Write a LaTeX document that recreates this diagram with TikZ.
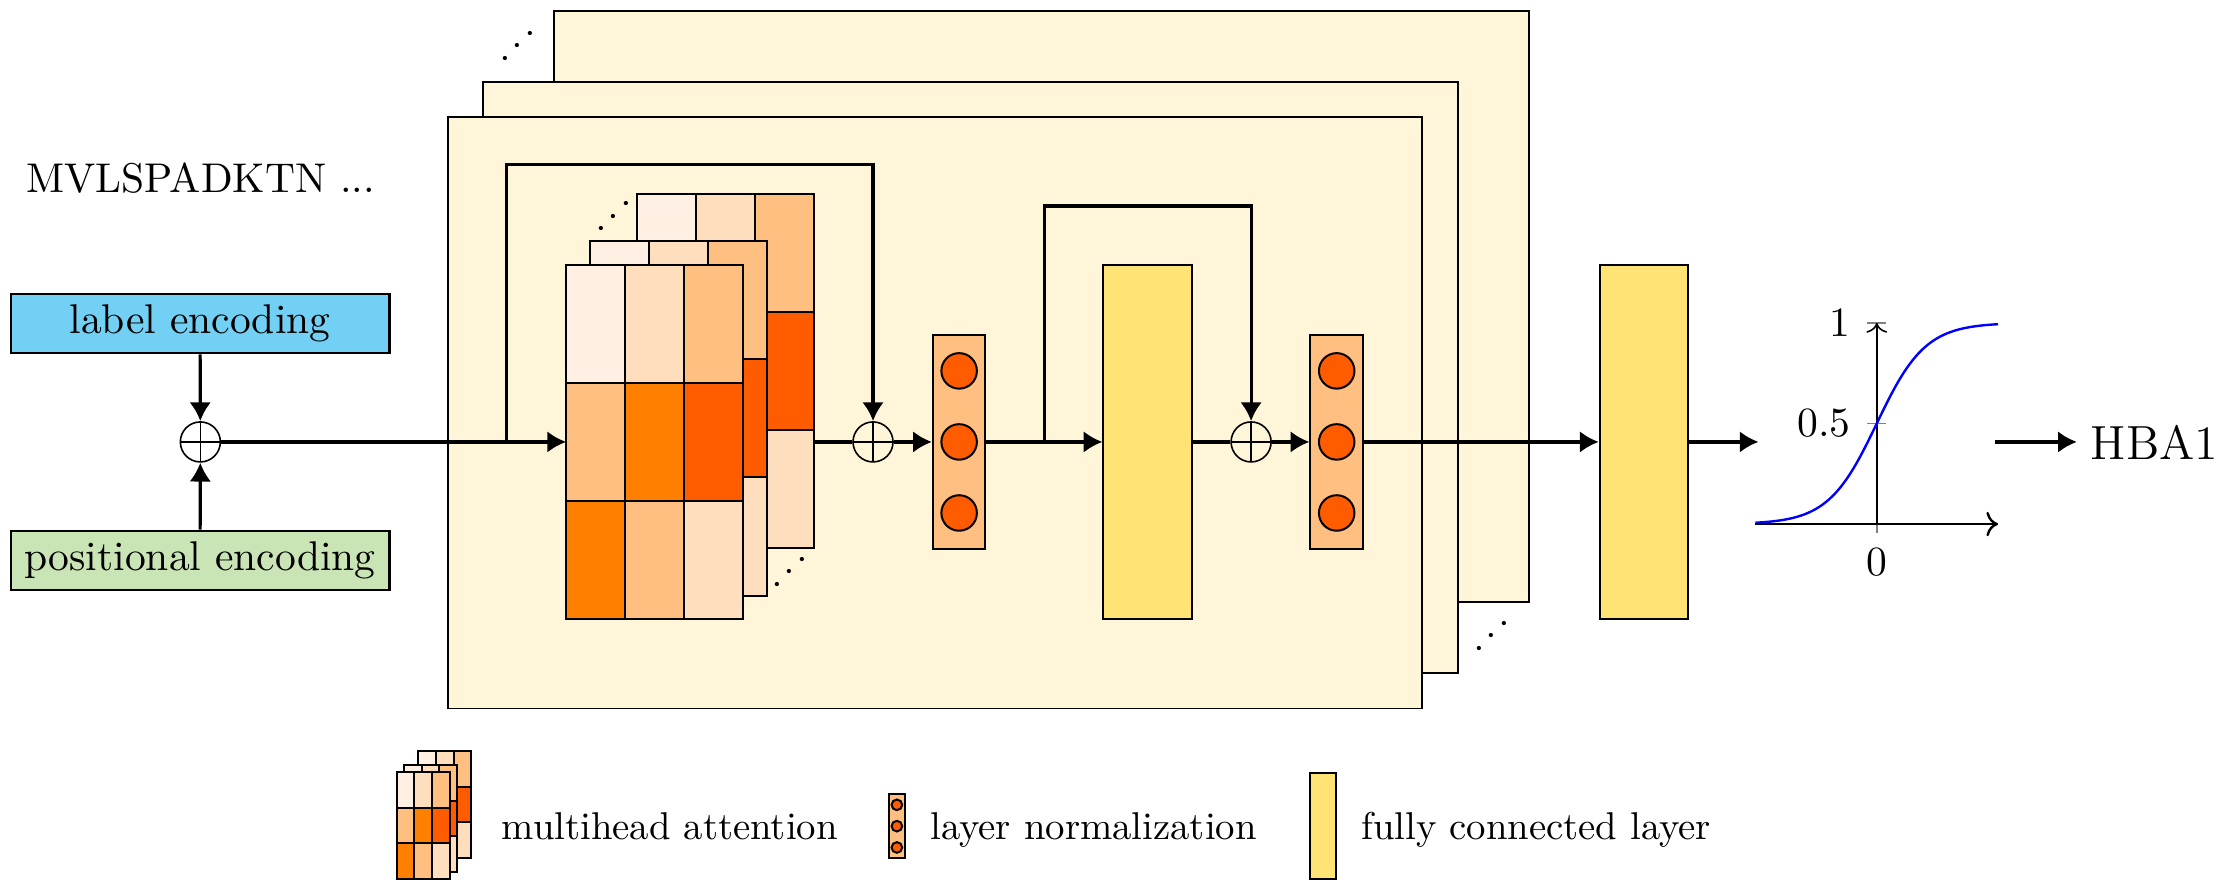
\documentclass[tikz,border=0pt]{standalone}
\usepackage{fontspec}
\usetikzlibrary{positioning,arrows.meta}

\definecolor{blockbg}{RGB}{255,246,218}
\definecolor{fcyellow}{RGB}{255,227,116}
\definecolor{labelblue}{RGB}{114,208,244}
\definecolor{posgreen}{RGB}{201,228,181}
\definecolor{attA}{RGB}{255,240,227}
\definecolor{attB}{RGB}{255,222,189}
\definecolor{attC}{RGB}{255,191,128}
\definecolor{attD}{RGB}{255,128,0}
\definecolor{attE}{RGB}{255,92,0}

\tikzset{
	conn/.style={thick,-{Latex[length=4.7pt,width=5.4pt]}},
	plain/.style={thick},
	encbox/.style={draw,semithick,rectangle,minimum width=3.33cm,minimum height=0.52cm,inner sep=0pt},
	block/.style={draw,line width=0.5pt,fill=blockbg,rectangle,minimum width=8.575cm,minimum height=5.2cm},
	fc/.style={draw,line width=0.5pt,fill=fcyellow,rectangle,minimum width=0.78cm,minimum height=3.12cm,inner sep=0pt},
	lnorm/.style={draw,line width=0.5pt,fill=attC,rectangle,minimum width=0.4625cm,minimum height=1.875cm,inner sep=0pt},
	lncirc/.style={draw,line width=0.5pt,fill=attE,circle,minimum size=0.3125cm,inner sep=0pt},
	addnode/.style={draw,circle,minimum size=0.352cm,inner sep=0pt,
		path picture={\draw (path picture bounding box.north) -- (path picture bounding box.south)
			(path picture bounding box.west) -- (path picture bounding box.east);}},
	dotsnode/.style={rotate=45,inner sep=0pt},
	keytext/.style={anchor=base west,font=\fontsize{9.7pt}{12pt}\selectfont},
	pics/heads/.style={code={
		% three heads, back to front
		\foreach \off in {0.625,0.208,0}{
			\foreach \clr [count=\i from 0] in {attA,attB,attC,attC,attD,attE,attD,attC,attB}{
				\pgfmathtruncatemacro{\col}{mod(\i,3)}
				\pgfmathtruncatemacro{\row}{\i/3}
				\draw[line width=0.5pt,fill=\clr] (\off+0.52*\col,\off-1.04*\row) rectangle ++(0.52,-1.04);
			}
		}
		\coordinate (-in) at (0,-1.56);
		\coordinate (-out) at (2.185,-1.56);
	}},
}

\begin{document}
\begin{tikzpicture}[every node/.append style={font=\fontsize{10.4pt}{12pt}\selectfont}]

	\useasboundingbox (0,0) rectangle (19.6,-7.8375);

	% input
	\node[anchor=west] (seq) at (0.11,-1.5625) {MVLSPADKTN ...};
	\node[encbox,fill=labelblue] (lenc) at (1.76,-2.847) {label encoding};
	\node[encbox,fill=posgreen] (penc) at (1.76,-4.93) {positional encoding};
	\node[addnode] (add0) at (1.7625,-3.8875) {};

	% stacked encoder layers
	\node[block] (block3) at (9.1625,-2.695) {};
	\node[block] (block2) at (8.5375,-3.32) {};
	\node[block] (block1) at (8.225,-3.6325) {};
	\node[dotsnode] (dots1) at (4.5625,-0.41) {$\cdots$};
	\node[dotsnode] (dots2) at (13.13,-5.6) {$\cdots$};

	\pic (mha) at (4.98,-2.3275) {heads};
	\node[dotsnode] (dots3) at (5.406,-1.907) {$\cdots$};
	\node[dotsnode] (dots4) at (6.953,-5.035) {$\cdots$};

	\node[addnode] (add1) at (7.68,-3.8875) {};
	\node[lnorm] (ln1) at (8.4375,-3.8875) {};
	\node[fc] (fc1) at (10.097,-3.8875) {};
	\node[addnode] (add2) at (11.006,-3.8875) {};
	\node[lnorm] (ln2) at (11.759,-3.8875) {};
	\foreach \n in {ln1,ln2}
		\foreach \dy [count=\k] in {0.625,0,-0.625}
			\node[lncirc] (\n-c\k) at ([yshift=\dy cm]\n.center) {};

	% output
	\node[fc] (fc2) at (14.4625,-3.8875) {};
	\coordinate (sigin) at (15.47,-3.8875);
	\coordinate (sigout) at (17.55,-3.8875);
	\node[anchor=west,font=\large] (hba) at (18.27,-3.8875) {HBA1};

	\begin{scope}[shift={(16.51,-4.61)},x=1.067cm,y=1.77cm]
		\draw[gray,thin] (-0.08,0.5) -- (0.08,0.5) (-0.08,1) -- (0.08,1) (0,0) -- (0,-0.045);
		\draw[semithick,->] (-1,0) -- (1,0);
		\draw[thin,->] (0,0) -- (0,1);
		\draw[blue,semithick,domain=-1:1,samples=80,smooth] plot (\x,{1/(1+exp(-5*\x))});
		\node[anchor=east] (tick1) at (-0.1,1) {1};
		\node[anchor=east] (tickh) at (-0.1,0.5) {0.5};
		\node[anchor=north] (tick0) at (0,-0.05) {0};
	\end{scope}

	% connections
	\draw[conn] (lenc) -- (add0);
	\draw[conn] (penc) -- (add0);
	\draw[conn] (add0) -- (mha-in);
	\coordinate (res1) at (4.456,-3.8875);
	\draw[conn] (res1) -- ++(0,2.4415) -| (add1);
	\draw[plain] (mha-out) -- (add1);
	\draw[conn] (add1) -- (ln1);
	\draw[conn] (ln1) -- (fc1);
	\coordinate (res2) at (9.1875,-3.8875);
	\draw[conn] (res2) -- ++(0,2.075) -| (add2);
	\draw[plain] (fc1) -- (add2);
	\draw[conn] (add2) -- (ln2);
	\draw[conn] (ln2) -- (fc2);
	\draw[conn] (fc2) -- (sigin);
	\draw[conn] (sigout) -- (hba);

	% legend
	\pic[scale=0.3] (keymha) at (3.49,-6.795) {heads};
	\node[keytext] (keymhatxt) at (4.29,-7.385) {multihead attention};
	\node[lnorm,scale=0.3] (keyln) at (7.89,-7.2675) {};
	\foreach \dy [count=\k] in {0.1875,0,-0.1875}
		\node[lncirc,scale=0.3] (keyln-c\k) at ([yshift=\dy cm]keyln.center) {};
	\node[keytext] (keylntxt) at (8.06,-7.385) {layer normalization};
	\node[fc,scale=0.3] (keyfc) at (11.64,-7.2675) {};
	\node[keytext] (keyfctxt) at (11.85,-7.385) {fully connected layer};

\end{tikzpicture}
\end{document}
